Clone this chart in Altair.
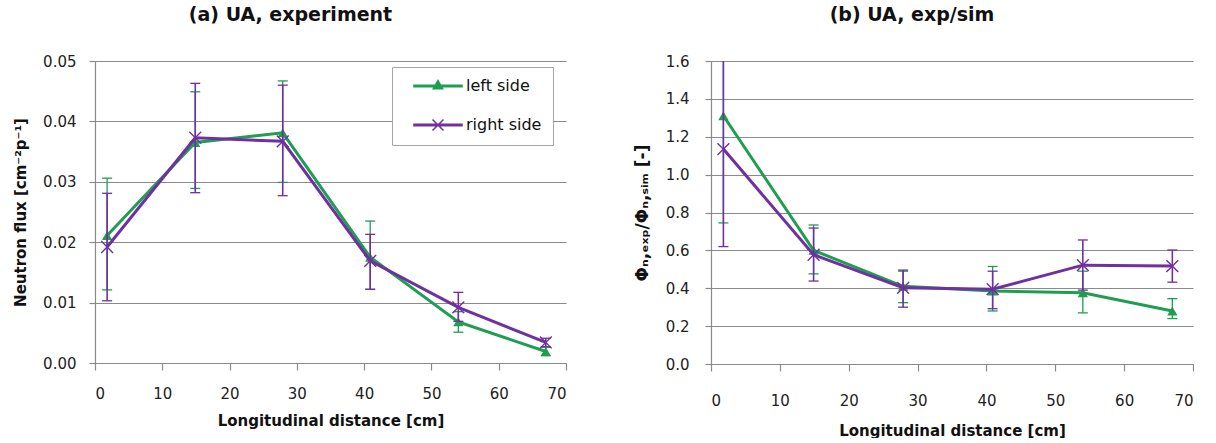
import altair as alt
import pandas as pd

# ---- data -------------------------------------------------------------
SERIES = ["left side", "right side"]
COLORS = ["#1f9e52", "#7030a0"]

distance_cm = [1.8, 14.9, 27.9, 40.9, 54.0, 67.0]

# (a) measured neutron flux [cm^-2 p^-1] with error-bar limits
flux_left = [0.0211, 0.0365, 0.0381, 0.0175, 0.0068, 0.0019]
flux_left_lo = [0.0121, 0.0289, 0.0299, 0.0122, 0.0051, 0.0012]
flux_left_hi = [0.0306, 0.0449, 0.0467, 0.0235, 0.0085, 0.0026]
flux_right = [0.0192, 0.0373, 0.0367, 0.0169, 0.0092, 0.0034]
flux_right_lo = [0.0103, 0.0282, 0.0277, 0.0122, 0.0069, 0.0027]
flux_right_hi = [0.0281, 0.0463, 0.0460, 0.0213, 0.0117, 0.0041]

# (b) experiment / simulation ratio with error-bar limits
ratio_left = [1.311, 0.600, 0.410, 0.385, 0.376, 0.280]
ratio_left_lo = [0.745, 0.476, 0.324, 0.280, 0.270, 0.240]
ratio_left_hi = [1.900, 0.734, 0.490, 0.515, 0.490, 0.345]
ratio_right = [1.135, 0.577, 0.402, 0.395, 0.522, 0.517]
ratio_right_lo = [0.620, 0.438, 0.300, 0.292, 0.390, 0.432]
ratio_right_hi = [1.680, 0.718, 0.496, 0.490, 0.655, 0.602]

x_ticks = [0, 10, 20, 30, 40, 50, 60, 70]
flux_ticks = [0.0, 0.01, 0.02, 0.03, 0.04, 0.05]
ratio_ticks = [0.0, 0.2, 0.4, 0.6, 0.8, 1.0, 1.2, 1.4, 1.6]

FONT = "DejaVu Sans"
GRID = "#8a8a8a"
BAR_WIDTHS = [1.3, 1.6]

# marker glyphs (custom symbol paths, unit square)
X_MARK = "M-1,-1L1,1M-1,1L1,-1"
BAR = "M-4.8,-0.15L4.8,-0.15L4.8,0.15L-4.8,0.15Z"
TRI_FILL = (
    "M0,-1.1L0.95,0.55L-0.95,0.55Z"
    "M0,-0.8L0.69,0.4L-0.69,0.4Z"
    "M0,-0.5L0.43,0.25L-0.43,0.25Z"
    "M0,-0.2L0.17,0.1L-0.17,0.1Z"
)
KEY_SHAPES = [BAR + TRI_FILL, BAR + "M-1.1,-1.1L1.1,1.1M-1.1,1.1L1.1,-1.1"]


def long_table(left, left_lo, left_hi, right, right_lo, right_hi):
    rows = []
    for name, mids, los, his in (
        (SERIES[0], left, left_lo, left_hi),
        (SERIES[1], right, right_lo, right_hi),
    ):
        for d, m, lo, hi in zip(distance_cm, mids, los, his):
            rows.append({"series": name, "distance": d, "value": m, "lo": lo, "hi": hi})
    return pd.DataFrame(rows)


def panel(df, y_max, y_ticks, y_format, y_title, y_title_size, title, width, height,
          x_label_pad, x_title_pad, y_label_pad, y_title_pad, legend_x):
    x = alt.X(
        "distance:Q",
        scale=alt.Scale(domain=[0, 70], nice=False, zero=False),
        axis=alt.Axis(
            values=x_ticks, format="d", title="Longitudinal distance [cm]",
            grid=False, tickSize=7, labelPadding=x_label_pad,
            titlePadding=x_title_pad,
        ),
    )
    y_scale = alt.Scale(domain=[0, y_max], nice=False, zero=True)
    y_axis = alt.Axis(
        values=y_ticks, format=y_format, title=y_title, titleFontSize=y_title_size,
        grid=True, tickSize=6, labelPadding=y_label_pad, titlePadding=y_title_pad,
    )

    def y(field):
        return alt.Y(field, scale=y_scale, axis=y_axis)

    layers = []
    for name, col, bw in zip(SERIES, COLORS, BAR_WIDTHS):
        part = alt.Chart(df).transform_filter(alt.datum.series == name)
        layers.append(part.mark_rule(strokeWidth=bw, color=col, clip=True).encode(
            x=x, y=y("lo:Q"), y2="hi:Q"))
        for end in ("lo:Q", "hi:Q"):
            layers.append(part.mark_tick(orient="horizontal", size=10, thickness=1.3,
                                         color=col, opacity=1, clip=True).encode(x=x, y=y(end)))
        layers.append(part.mark_line(strokeWidth=3, color=col).encode(x=x, y=y("value:Q")))
        if name == SERIES[0]:
            marker = part.mark_point(shape="triangle-up", filled=True, size=105,
                                     opacity=1, color=col)
        else:
            marker = part.mark_point(shape=X_MARK, filled=False, size=140,
                                     strokeWidth=1.4, opacity=1, color=col)
        layers.append(marker.encode(x=x, y=y("value:Q")))

    key_legend = alt.Legend(
        orient="none", legendX=legend_x, legendY=6, title=None, direction="vertical",
        labelFont=FONT, labelFontSize=16, labelColor="#111",
        symbolSize=100, symbolStrokeWidth=1.5, symbolOpacity=1,
        symbolOffset=27, labelOffset=20, rowPadding=22, padding=11,
        strokeColor="#a6a6a6", fillColor="white",
    )
    key = alt.Chart(df).mark_point(opacity=0, filled=False).encode(
        x=x,
        y=y("value:Q"),
        color=alt.Color("series:N", scale=alt.Scale(domain=SERIES, range=COLORS), legend=key_legend),
        shape=alt.Shape("series:N", scale=alt.Scale(domain=SERIES, range=KEY_SHAPES), legend=key_legend),
    )
    layers.append(key)

    return alt.layer(*layers).properties(
        width=width,
        height=height,
        title=alt.TitleParams(
            text=title, font=FONT, fontSize=19, fontWeight="bold", color="#111",
            anchor="middle", dx=-40, offset=29,
        ),
    )


flux_df = long_table(flux_left, flux_left_lo, flux_left_hi, flux_right, flux_right_lo, flux_right_hi)
ratio_df = long_table(ratio_left, ratio_left_lo, ratio_left_hi, ratio_right, ratio_right_lo, ratio_right_hi)

left_panel = panel(
    flux_df, 0.05, flux_ticks, ".2f", "Neutron flux [cm⁻²p⁻¹]", 15, "(a) UA, experiment",
    471, 302, x_label_pad=16, x_title_pad=12, y_label_pad=13, y_title_pad=14, legend_x=297,
)
right_panel = panel(
    ratio_df, 1.6, ratio_ticks, ".1f", "Φₙ,ₑₓₚ/Φₙ,ₛᵢₘ [-]", 17, "(b) UA, exp/sim",
    482, 303, x_label_pad=22, x_title_pad=15, y_label_pad=16, y_title_pad=14, legend_x=304,
)

chart = (
    alt.hconcat(left_panel, right_panel, spacing=66)
    .properties(padding={"left": 13, "top": 6, "right": 0, "bottom": 0}, background="white")
    .configure_view(stroke=None)
    .configure_axis(
        domainColor=GRID, tickColor=GRID, gridColor=GRID, gridWidth=1.2,
        domainWidth=1.2, tickWidth=1.2,
        labelFont=FONT, labelFontSize=15, labelColor="#222",
        titleFont=FONT, titleFontSize=15, titleFontWeight="bold", titleColor="#111",
    )
)

chart.save("out.html", embed_options={"renderer": "svg", "actions": False})
